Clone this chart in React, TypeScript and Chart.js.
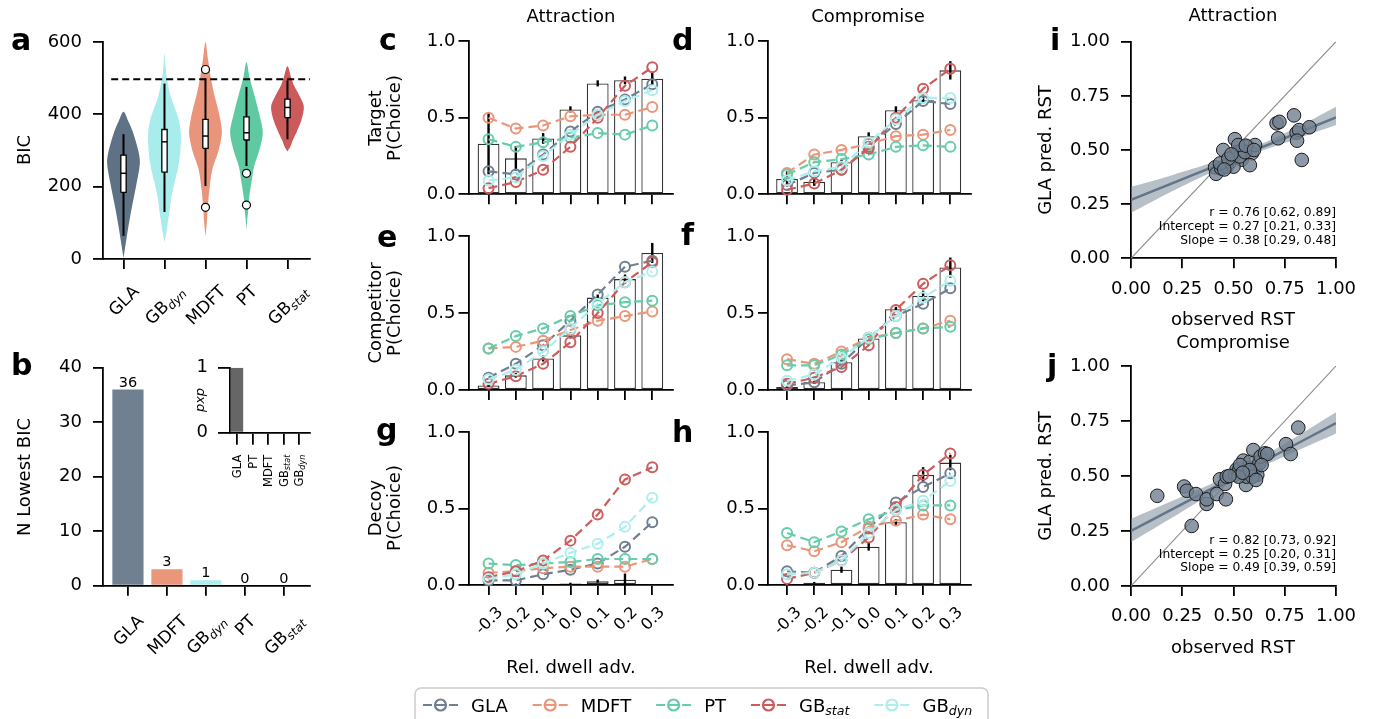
import React, { useEffect, useRef } from "react";
import { Chart, registerables } from "chart.js";

Chart.register(...registerables);
Chart.defaults.font.family = "DejaVu Sans";
Chart.defaults.color = "#000";

const PAGE_W = 1375;
const PAGE_H = 719;
const FONT = "DejaVu Sans";
const YAXIS_W = 80;

// ---------------- shared model legend ----------------
const MODEL_NAMES = ["GLA", "MDFT", "PT", "GB_stat", "GB_dyn"];
const MODEL_COLORS = ["#708090", "#E9967A", "#66CDAA", "#CD5C5C", "#AFEEEE"];

// ---------------- panel a : BIC violins ----------------
const A_MODELS = ["GLA", "GB_dyn", "MDFT", "PT", "GB_stat"];
const A_COLORS = ["#5f7184", "#a9ecec", "#e8957b", "#5fcaa2", "#cd5a5a"];
const A_Y_TICKS = [0, 200, 400, 600];
const A_VIOLIN_Y = [
  [3, 50, 100, 150, 200, 265, 300, 350, 380, 407],
  [46, 70, 100, 130, 165, 200, 250, 300, 345, 380, 400, 450, 500, 535, 568],
  [62, 100, 150, 200, 250, 300, 350, 400, 450, 500, 550, 600],
  [81, 110, 130, 165, 210, 255, 300, 350, 400, 450, 500, 545],
  [297, 311, 329, 350, 384, 421, 448, 476, 500, 533],
];
const A_VIOLIN_W = [
  [0, 0.16, 0.34, 0.54, 0.76, 1.0, 0.9, 0.58, 0.3, 0],
  [0, 0.1, 0.2, 0.3, 0.4, 0.55, 0.82, 0.97, 1.0, 0.9, 0.77, 0.38, 0.15, 0.06, 0],
  [0, 0.08, 0.15, 0.26, 0.43, 0.8, 1.0, 0.84, 0.56, 0.33, 0.16, 0],
  [0, 0.05, 0.1, 0.15, 0.3, 0.46, 0.78, 1.0, 0.78, 0.5, 0.2, 0],
  [0, 0.18, 0.33, 0.55, 0.85, 1.0, 0.77, 0.44, 0.24, 0],
];
const A_WHISK_LO = [64, 130, 202, 257, 331];
const A_Q1 = [184, 240, 306, 329, 391];
const A_MED = [237, 324, 340, 349, 419];
const A_Q3 = [287, 358, 386, 393, 442];
const A_WHISK_HI = [345, 485, 499, 476, 494];
const A_OUTLIER_X = [2, 2, 3, 3];
const A_OUTLIER_Y = [524, 143, 237, 149];
const A_REF_BIC = 497;
const A_REF_X = [-0.3, 4.55];

// ---------------- panel b : N lowest BIC + pxp inset ----------------
const B_MODELS = ["GLA", "MDFT", "GB_dyn", "PT", "GB_stat"];
const B_COUNTS = [36, 3, 1, 0, 0];
const B_COLORS = ["#708090", "#E9967A", "#AFEEEE", "#66CDAA", "#CD5C5C"];
const B_Y_TICKS = [0, 10, 20, 30, 40];
const PXP_MODELS = ["GLA", "PT", "MDFT", "GB_stat", "GB_dyn"];
const PXP_VALUES = [1, 0, 0, 0, 0];
const PXP_Y_TICKS = [0, 1];

// ---------------- panels c-h : choice probabilities ----------------
const DWELL = ["-0.3", "-0.2", "-0.1", "0.0", "0.1", "0.2", "0.3"];
const P_TICKS = [0, 0.5, 1];

const C_OBS = [0.33, 0.235, 0.365, 0.555, 0.725, 0.745, 0.755];
const C_ERR = [0.2, 0.08, 0.035, 0.02, 0.02, 0.025, 0.045];
const C_PRED = [
  [0.15, 0.13, 0.26, 0.41, 0.54, 0.62, 0.72],
  [0.5, 0.43, 0.45, 0.51, 0.52, 0.52, 0.57],
  [0.36, 0.31, 0.34, 0.37, 0.4, 0.39, 0.45],
  [0.04, 0.08, 0.16, 0.31, 0.5, 0.71, 0.83],
  [0.09, 0.11, 0.25, 0.39, 0.52, 0.61, 0.68],
];

const D_OBS = [0.1, 0.08, 0.21, 0.38, 0.55, 0.615, 0.81];
const D_ERR = [0.05, 0.025, 0.015, 0.025, 0.025, 0.02, 0.06];
const D_PRED = [
  [0.06, 0.14, 0.16, 0.31, 0.46, 0.61, 0.59],
  [0.14, 0.26, 0.29, 0.33, 0.38, 0.39, 0.42],
  [0.13, 0.21, 0.23, 0.26, 0.31, 0.32, 0.31],
  [0.03, 0.07, 0.16, 0.3, 0.5, 0.69, 0.82],
  [0.09, 0.15, 0.18, 0.34, 0.49, 0.63, 0.63],
];

const E_OBS = [0.03, 0.095, 0.205, 0.355, 0.6, 0.72, 0.89];
const E_ERR = [0.01, 0.015, 0.02, 0.02, 0.02, 0.03, 0.065];
const E_PRED = [
  [0.08, 0.17, 0.29, 0.45, 0.62, 0.8, 0.84],
  [0.27, 0.28, 0.32, 0.39, 0.45, 0.48, 0.51],
  [0.27, 0.35, 0.4, 0.48, 0.55, 0.57, 0.58],
  [0.04, 0.09, 0.17, 0.31, 0.5, 0.7, 0.83],
  [0.07, 0.13, 0.25, 0.4, 0.56, 0.7, 0.77],
];

const F_OBS = [0.02, 0.05, 0.18, 0.335, 0.525, 0.61, 0.795];
const F_ERR = [0.008, 0.01, 0.015, 0.015, 0.015, 0.035, 0.065];
const F_PRED = [
  [0.03, 0.05, 0.17, 0.34, 0.48, 0.56, 0.66],
  [0.2, 0.17, 0.25, 0.34, 0.37, 0.4, 0.45],
  [0.16, 0.16, 0.23, 0.33, 0.37, 0.4, 0.41],
  [0.04, 0.08, 0.15, 0.29, 0.52, 0.69, 0.81],
  [0.06, 0.1, 0.21, 0.34, 0.48, 0.6, 0.71],
];

const G_OBS = [0.0, 0.005, 0.0, 0.01, 0.025, 0.035, 0.0];
const G_ERR = [0, 0.004, 0, 0.005, 0.01, 0.04, 0];
const G_PRED = [
  [0.03, 0.03, 0.07, 0.1, 0.14, 0.25, 0.41],
  [0.08, 0.09, 0.11, 0.12, 0.12, 0.12, 0.17],
  [0.14, 0.13, 0.14, 0.15, 0.17, 0.17, 0.17],
  [0.05, 0.09, 0.16, 0.29, 0.46, 0.69, 0.77],
  [0.04, 0.07, 0.14, 0.21, 0.27, 0.38, 0.57],
];

const H_OBS = [0.0, 0.015, 0.1, 0.25, 0.41, 0.72, 0.8];
const H_ERR = [0, 0.005, 0.02, 0.025, 0.02, 0.05, 0.05];
const H_PRED = [
  [0.09, 0.08, 0.19, 0.37, 0.54, 0.64, 0.73],
  [0.26, 0.22, 0.28, 0.38, 0.42, 0.46, 0.43],
  [0.34, 0.28, 0.35, 0.43, 0.49, 0.52, 0.52],
  [0.04, 0.08, 0.16, 0.31, 0.51, 0.72, 0.86],
  [0.07, 0.08, 0.16, 0.34, 0.49, 0.55, 0.68],
];

// ---------------- panels i-j : RST scatter ----------------
const RST_TICKS = [0, 0.25, 0.5, 0.75, 1];
const DIAG_X = [0, 1];
const DIAG_Y = [0, 1];
const FIT_X = [0, 0.2, 0.4, 0.6, 0.8, 1.0];

const I_OBS = [0.41, 0.415, 0.45, 0.44, 0.48, 0.507, 0.5, 0.52, 0.54, 0.545, 0.57, 0.59, 0.605, 0.58, 0.467, 0.5, 0.434, 0.53, 0.556, 0.71, 0.724, 0.718, 0.795, 0.808, 0.82, 0.81, 0.833, 0.87, 0.523, 0.475, 0.56, 0.6, 0.49, 0.455];
const I_PRED = [0.42, 0.39, 0.5, 0.415, 0.44, 0.55, 0.47, 0.49, 0.455, 0.5, 0.515, 0.485, 0.523, 0.43, 0.423, 0.423, 0.438, 0.47, 0.49, 0.623, 0.63, 0.554, 0.66, 0.58, 0.592, 0.543, 0.454, 0.605, 0.523, 0.46, 0.52, 0.5, 0.48, 0.41];
const I_FIT = [0.27, 0.346, 0.422, 0.498, 0.574, 0.65];
const I_LO = [0.21, 0.31, 0.4, 0.483, 0.548, 0.615];
const I_HI = [0.33, 0.384, 0.443, 0.513, 0.6, 0.7];
const I_STATS = ["r = 0.76 [0.62, 0.89]", "Intercept = 0.27 [0.21, 0.33]", "Slope = 0.38 [0.29, 0.48]"];

const J_OBS = [0.128, 0.259, 0.272, 0.317, 0.296, 0.369, 0.369, 0.418, 0.434, 0.463, 0.459, 0.467, 0.507, 0.515, 0.528, 0.548, 0.561, 0.564, 0.577, 0.58, 0.597, 0.605, 0.616, 0.626, 0.632, 0.654, 0.665, 0.637, 0.532, 0.592, 0.756, 0.779, 0.816, 0.58, 0.524, 0.61, 0.48, 0.545];
const J_PRED = [0.41, 0.452, 0.433, 0.418, 0.273, 0.373, 0.394, 0.418, 0.485, 0.394, 0.464, 0.497, 0.505, 0.53, 0.53, 0.57, 0.459, 0.497, 0.535, 0.565, 0.618, 0.527, 0.505, 0.558, 0.588, 0.603, 0.6, 0.55, 0.55, 0.497, 0.645, 0.6, 0.72, 0.527, 0.497, 0.482, 0.5, 0.515];
const J_FIT = [0.25, 0.348, 0.446, 0.544, 0.642, 0.74];
const J_LO = [0.2, 0.31, 0.424, 0.525, 0.61, 0.693];
const J_HI = [0.305, 0.386, 0.468, 0.565, 0.675, 0.79];
const J_STATS = ["r = 0.82 [0.73, 0.92]", "Intercept = 0.25 [0.20, 0.31]", "Slope = 0.49 [0.39, 0.59]"];

// ---------------- layout ----------------
type Area = { l: number; t: number; r: number; b: number };
const AREA_A: Area = { l: 103, t: 42, r: 310, b: 259 };
const AREA_B: Area = { l: 103, t: 367.7, r: 310, b: 585.7 };
const AREA_INSET: Area = { l: 230, t: 367.7, r: 310, b: 432.7 };
const AREA_C: Area = { l: 468.5, t: 41.3, r: 673, b: 194.3 };
const AREA_D: Area = { l: 768, t: 41.3, r: 971, b: 194.3 };
const AREA_E: Area = { l: 468.5, t: 236, r: 673, b: 390 };
const AREA_F: Area = { l: 768, t: 236, r: 971, b: 390 };
const AREA_G: Area = { l: 468.5, t: 432, r: 673, b: 585 };
const AREA_H: Area = { l: 768, t: 432, r: 971, b: 585 };
const AREA_I: Area = { l: 1131, t: 41.7, r: 1336, b: 258.3 };
const AREA_J: Area = { l: 1131, t: 366, r: 1336, b: 586 };

const AX_COLOR = "#000";
const AX_W = 1.8;
const ROT = -Math.PI / 2;

type Item = { t: string; x: number; y: number; size: number; bold?: boolean; italic?: boolean; rot?: number; align?: CanvasTextAlign; base?: CanvasTextBaseline };
const L = (t: string, x: number, y: number): Item => ({ t, x, y, size: 30, bold: true, align: "left", base: "alphabetic" });
const PAGE_TEXTS: Item[] = [
  L("a", 11, 50), L("b", 11, 375), L("c", 379, 50), L("d", 672, 50), L("e", 377, 247),
  L("f", 681, 245), L("g", 376, 440), L("h", 672, 442), L("i", 1050, 50), L("j", 1047, 376),
  { t: "Attraction", x: 571, y: 17, size: 18 },
  { t: "Compromise", x: 868, y: 17, size: 18 },
  { t: "Attraction", x: 1233, y: 16, size: 18 },
  { t: "Compromise", x: 1233, y: 343, size: 18 },
  { t: "BIC", x: 25, y: 150, size: 18, rot: ROT },
  { t: "N Lowest BIC", x: 25, y: 477, size: 18, rot: ROT },
  { t: "pxp", x: 201, y: 400, size: 13, italic: true, rot: ROT },
  { t: "Target", x: 376, y: 118, size: 18, rot: ROT },
  { t: "P(Choice)", x: 395, y: 118, size: 18, rot: ROT },
  { t: "Competitor", x: 376, y: 313, size: 18, rot: ROT },
  { t: "P(Choice)", x: 395, y: 313, size: 18, rot: ROT },
  { t: "Decoy", x: 376, y: 508, size: 18, rot: ROT },
  { t: "P(Choice)", x: 395, y: 508, size: 18, rot: ROT },
  { t: "GLA pred. RST", x: 1046, y: 150, size: 18, rot: ROT },
  { t: "GLA pred. RST", x: 1046, y: 476, size: 18, rot: ROT },
  { t: "Rel. dwell adv.", x: 571, y: 668, size: 18 },
  { t: "Rel. dwell adv.", x: 869, y: 668, size: 18 },
  { t: "observed RST", x: 1233, y: 320, size: 18 },
  { t: "observed RST", x: 1233, y: 648, size: 18 },
];

// ---------------- helpers ----------------
function drawRich(ctx: CanvasRenderingContext2D, label: string, size: number, x: number, y: number) {
  const [main, sub] = label.split("_");
  ctx.font = `${size}px "${FONT}"`;
  ctx.fillText(main, x, y);
  const w1 = ctx.measureText(main).width;
  if (sub) {
    ctx.font = `italic ${size * 0.7}px "${FONT}"`;
    ctx.fillText(sub, x + w1, y + size * 0.2);
  }
}
function richWidth(ctx: CanvasRenderingContext2D, label: string, size: number) {
  const [main, sub] = label.split("_");
  ctx.font = `${size}px "${FONT}"`;
  let w = ctx.measureText(main).width;
  if (sub) {
    ctx.font = `italic ${size * 0.7}px "${FONT}"`;
    w += ctx.measureText(sub).width;
  }
  return w;
}

function textPlugin(items: Item[]) {
  return {
    id: "pageTexts",
    afterDraw(chart: any) {
      const ctx = chart.ctx as CanvasRenderingContext2D;
      for (const it of items) {
        ctx.save();
        ctx.font = `${it.italic ? "italic " : ""}${it.bold ? "bold " : ""}${it.size}px "${FONT}"`;
        ctx.fillStyle = "#000";
        ctx.textAlign = it.align || "center";
        ctx.textBaseline = it.base || "middle";
        ctx.translate(it.x, it.y);
        if (it.rot) ctx.rotate(it.rot);
        ctx.fillText(it.t, 0, 0);
        ctx.restore();
      }
    },
  };
}

function rotLabelPlugin(labels: string[], size: number, angle: 45 | 90, tickLen: number, pad: number) {
  return {
    id: "rotLabels",
    afterDraw(chart: any) {
      const ctx = chart.ctx as CanvasRenderingContext2D;
      const xs = chart.scales.x;
      const top = chart.chartArea.bottom + tickLen + pad;
      labels.forEach((lab, i) => {
        ctx.save();
        const w = richWidth(ctx, lab, size);
        const h = size * 1.16;
        const px = xs.getPixelForValue(i);
        let cy: number;
        let rot: number;
        if (angle === 45) {
          cy = top + (w + h) / Math.SQRT2 / 2;
          rot = -Math.PI / 4;
        } else {
          cy = top + w / 2;
          rot = -Math.PI / 2;
        }
        ctx.translate(px, cy);
        ctx.rotate(rot);
        ctx.fillStyle = "#000";
        ctx.textAlign = "left";
        ctx.textBaseline = "alphabetic";
        drawRich(ctx, lab, size, -w / 2, size * 0.35);
        ctx.restore();
      });
    },
  };
}

function errorBarPlugin(obs: number[], err: number[]) {
  return {
    id: "errBars",
    afterDatasetDraw(chart: any, args: any) {
      if (args.index !== 0) return;
      const ctx = chart.ctx as CanvasRenderingContext2D;
      const xs = chart.scales.x;
      const ys = chart.scales.y;
      ctx.save();
      ctx.strokeStyle = "#000";
      ctx.lineWidth = 2.4;
      obs.forEach((v, i) => {
        if (!err[i]) return;
        const x = xs.getPixelForValue(i);
        ctx.beginPath();
        ctx.moveTo(x, ys.getPixelForValue(v - err[i]));
        ctx.lineTo(x, ys.getPixelForValue(v + err[i]));
        ctx.stroke();
      });
      ctx.restore();
    },
  };
}

function barLabelPlugin(values: number[]) {
  return {
    id: "barLabels",
    afterDatasetsDraw(chart: any) {
      const ctx = chart.ctx as CanvasRenderingContext2D;
      const xs = chart.scales.x;
      const ys = chart.scales.y;
      ctx.save();
      ctx.font = `14.5px "${FONT}"`;
      ctx.fillStyle = "#000";
      ctx.textAlign = "center";
      ctx.textBaseline = "alphabetic";
      values.forEach((v, i) => ctx.fillText(String(v), xs.getPixelForValue(i), ys.getPixelForValue(v) - 3));
      ctx.restore();
    },
  };
}

function statsPlugin(lines: string[], bottomOffset: number, spacing: number) {
  return {
    id: "statsText",
    afterDatasetsDraw(chart: any) {
      const ctx = chart.ctx as CanvasRenderingContext2D;
      const { right, bottom } = chart.chartArea;
      ctx.save();
      ctx.font = `12.3px "${FONT}"`;
      ctx.fillStyle = "#000";
      ctx.textAlign = "right";
      ctx.textBaseline = "middle";
      lines.forEach((s, k) => ctx.fillText(s, right, bottom - bottomOffset - (lines.length - 1 - k) * spacing));
      ctx.restore();
    },
  };
}

const legendPlugin = {
  id: "figLegend",
  afterDraw(chart: any) {
    const ctx = chart.ctx as CanvasRenderingContext2D;
    ctx.save();
    const bx = 415, by = 688, bw = 573, bh = 50, r = 6;
    ctx.beginPath();
    ctx.moveTo(bx + r, by);
    ctx.lineTo(bx + bw - r, by);
    ctx.arcTo(bx + bw, by, bx + bw, by + r, r);
    ctx.lineTo(bx + bw, by + bh);
    ctx.lineTo(bx, by + bh);
    ctx.lineTo(bx, by + r);
    ctx.arcTo(bx, by, bx + r, by, r);
    ctx.closePath();
    ctx.fillStyle = "rgba(255,255,255,0.85)";
    ctx.fill();
    ctx.strokeStyle = "#cccccc";
    ctx.lineWidth = 1.5;
    ctx.stroke();
    let x = 423;
    const cy = 705;
    MODEL_NAMES.forEach((name, k) => {
      ctx.strokeStyle = MODEL_COLORS[k];
      ctx.lineWidth = 2.2;
      ctx.beginPath();
      ctx.moveTo(x, cy); ctx.lineTo(x + 9, cy);
      ctx.moveTo(x + 12.5, cy); ctx.lineTo(x + 22.5, cy);
      ctx.moveTo(x + 26, cy); ctx.lineTo(x + 35, cy);
      ctx.stroke();
      ctx.beginPath();
      ctx.arc(x + 17.5, cy, 5.5, 0, Math.PI * 2);
      ctx.stroke();
      const tx = x + 35 + 13;
      ctx.fillStyle = "#000";
      ctx.textAlign = "left";
      ctx.textBaseline = "alphabetic";
      const w = richWidth(ctx, name, 18);
      drawRich(ctx, name, 18, tx, cy + 6.5);
      x = tx + w + 25;
    });
    ctx.restore();
  },
};

function gridOpts(tickLen = 10) {
  return { display: true, drawOnChartArea: false, drawTicks: true, tickLength: tickLen, color: AX_COLOR, lineWidth: AX_W, offset: false };
}
const borderOpts = { display: true, color: AX_COLOR, width: AX_W };

function xAxis(a: Area, min: number, max: number, tickVals: number[], fmt?: (v: number) => string, pad = 10, tickLen = 10) {
  return {
    type: "linear",
    min,
    max,
    offset: false,
    afterBuildTicks: (s: any) => {
      s.ticks = tickVals.map((v) => ({ value: v }));
    },
    afterFit: (s: any) => {
      s.height = PAGE_H - a.b;
    },
    grid: gridOpts(tickLen),
    border: borderOpts,
    ticks: fmt
      ? { display: true, autoSkip: false, maxRotation: 0, minRotation: 0, padding: pad, color: "#000", font: { family: FONT, size: 18 }, callback: (v: number) => fmt(v) }
      : { display: false },
  };
}

function yAxis(min: number, max: number, tickVals: number[], fmt: (v: number) => string, pad: number, tickLen = 10) {
  return {
    type: "linear",
    min,
    max,
    afterBuildTicks: (s: any) => {
      s.ticks = tickVals.map((v) => ({ value: v }));
    },
    afterFit: (s: any) => {
      s.width = YAXIS_W;
    },
    grid: gridOpts(tickLen),
    border: borderOpts,
    ticks: { display: true, autoSkip: false, padding: pad, color: "#000", font: { family: FONT, size: 18 }, callback: (v: number) => fmt(v) },
  };
}

function baseOptions(a: Area) {
  return {
    responsive: false,
    maintainAspectRatio: false,
    animation: false,
    events: [],
    layout: { padding: { left: a.l - YAXIS_W, top: a.t, right: PAGE_W - a.r, bottom: 0 } },
    plugins: { legend: { display: false }, tooltip: { enabled: false }, title: { display: false } },
  };
}

const idx = (arr: any[]) => arr.map((_, i) => i);

// ---------------- chart builders ----------------
function buildA() {
  const HALF = 0.4;
  const BOX = 0.065;
  const violins = A_VIOLIN_Y.map((ys, k) => {
    const ws = A_VIOLIN_W[k];
    const right = ys.map((y, j) => ({ x: k + ws[j] * HALF, y }));
    const left = ys.map((y, j) => ({ x: k - ws[j] * HALF, y })).reverse().slice(1);
    return { type: "line", data: [...right, ...left], fill: "shape", backgroundColor: A_COLORS[k], borderColor: A_COLORS[k], borderWidth: 0, pointRadius: 0, tension: 0.3, order: 50 };
  });
  const whiskers = A_MODELS.map((_, k) => ({
    type: "line", data: [{ x: k, y: A_WHISK_LO[k] }, { x: k, y: A_WHISK_HI[k] }], borderColor: "#000", borderWidth: 2, pointRadius: 0, order: 40,
  }));
  const boxes = A_MODELS.map((_, k) => ({
    type: "line",
    data: [
      { x: k - BOX, y: A_Q1[k] }, { x: k + BOX, y: A_Q1[k] }, { x: k + BOX, y: A_Q3[k] }, { x: k - BOX, y: A_Q3[k] }, { x: k - BOX, y: A_Q1[k] },
    ],
    fill: "shape", backgroundColor: "#fff", borderColor: "#000", borderWidth: 1.3, pointRadius: 0, order: 30,
  }));
  const medians = A_MODELS.map((_, k) => ({
    type: "line", data: [{ x: k - BOX, y: A_MED[k] }, { x: k + BOX, y: A_MED[k] }], borderColor: "#000", borderWidth: 1.5, pointRadius: 0, order: 20,
  }));
  const outliers = {
    type: "scatter", data: A_OUTLIER_X.map((x, j) => ({ x, y: A_OUTLIER_Y[j] })), pointRadius: 4, pointBackgroundColor: "#fff", pointBorderColor: "#000", pointBorderWidth: 1.2, order: 10,
  };
  const refLine = {
    type: "line", data: A_REF_X.map((x) => ({ x, y: A_REF_BIC })), borderColor: "#000", borderWidth: 1.8, borderDash: [7, 4], pointRadius: 0, order: 5,
  };
  return {
    type: "scatter",
    data: { datasets: [...violins, ...whiskers, ...boxes, ...medians, outliers, refLine] },
    options: {
      ...baseOptions(AREA_A),
      scales: {
        x: xAxis(AREA_A, -0.5, 4.55, idx(A_MODELS)),
        y: yAxis(0, 600, A_Y_TICKS, (v) => String(v), 11),
      },
    },
    plugins: [rotLabelPlugin(A_MODELS, 17, 45, 10, 12), textPlugin(PAGE_TEXTS)],
  };
}

function buildB() {
  return {
    type: "bar",
    data: {
      datasets: [
        { data: B_COUNTS.map((v, i) => ({ x: i, y: v })), backgroundColor: B_COLORS, borderWidth: 0, barPercentage: 0.8, categoryPercentage: 1 },
      ],
    },
    options: {
      ...baseOptions(AREA_B),
      scales: {
        x: xAxis(AREA_B, -0.64, 4.67, idx(B_MODELS)),
        y: yAxis(0, 40, B_Y_TICKS, (v) => String(v), 11),
      },
    },
    plugins: [rotLabelPlugin(B_MODELS, 17, 45, 10, 15), barLabelPlugin(B_COUNTS)],
  };
}

function buildInset() {
  return {
    type: "bar",
    data: {
      datasets: [
        { data: PXP_VALUES.map((v, i) => ({ x: i, y: v })), backgroundColor: "#666666", borderWidth: 0, barPercentage: 0.8, categoryPercentage: 1 },
      ],
    },
    options: {
      ...baseOptions(AREA_INSET),
      scales: {
        x: xAxis(AREA_INSET, -0.45, 4.71, idx(PXP_MODELS), undefined, 10, 12),
        y: yAxis(0, 1, PXP_Y_TICKS, (v) => String(v), 10, 12),
      },
    },
    plugins: [rotLabelPlugin(PXP_MODELS, 11.5, 90, 12, 10)],
  };
}

function buildProb(a: Area, xmin: number, obs: number[], err: number[], pred: number[][], showX: boolean, extra: any[] = []) {
  const datasets: any[] = [
    {
      type: "bar", data: obs.map((v, i) => ({ x: i, y: v })), backgroundColor: "#ffffff", borderColor: "#333333", borderWidth: 1.3, borderSkipped: false,
      barPercentage: 0.8, categoryPercentage: 1, order: 10,
    },
    ...pred.map((row, k) => ({
      type: "line", data: row.map((v, i) => ({ x: i, y: v })), borderColor: MODEL_COLORS[k], borderWidth: 2.2, borderDash: [9, 5],
      pointRadius: 5, pointBorderWidth: 2, pointBorderColor: MODEL_COLORS[k], pointBackgroundColor: "rgba(0,0,0,0)",
      fill: false, tension: 0, clip: false, order: 5 - k,
    })),
  ];
  return {
    type: "bar",
    data: { datasets },
    options: {
      ...baseOptions(a),
      scales: {
        x: xAxis(a, xmin, 6.76, idx(DWELL)),
        y: yAxis(0, 1, P_TICKS, (v) => v.toFixed(1), 3),
      },
    },
    plugins: [errorBarPlugin(obs, err), ...(showX ? [rotLabelPlugin(DWELL, 16, 45, 10, 7.5)] : []), ...extra],
  };
}

function buildRst(a: Area, obs: number[], pred: number[], fit: number[], lo: number[], hi: number[], stats: string[], bottomOffset: number, spacing: number) {
  return {
    type: "scatter",
    data: {
      datasets: [
        {
          type: "scatter", data: obs.map((x, k) => ({ x, y: pred[k] })), pointRadius: 6.8, pointBackgroundColor: "rgba(112,128,144,0.8)",
          pointBorderColor: "#1a1a1a", pointBorderWidth: 1, order: 0,
        },
        { type: "line", data: FIT_X.map((x, k) => ({ x, y: hi[k] })), borderWidth: 0, pointRadius: 0, fill: false, tension: 0.3, order: 40 },
        {
          type: "line", data: FIT_X.map((x, k) => ({ x, y: lo[k] })), borderWidth: 0, pointRadius: 0, fill: "-1", tension: 0.3,
          backgroundColor: "rgba(112,128,144,0.5)", order: 40,
        },
        { type: "line", data: FIT_X.map((x, k) => ({ x, y: fit[k] })), borderColor: "#64748a", borderWidth: 2.5, pointRadius: 0, order: 30 },
        { type: "line", data: DIAG_X.map((x, k) => ({ x, y: DIAG_Y[k] })), borderColor: "#8c8c8c", borderWidth: 1.1, pointRadius: 0, order: 20 },
      ],
    },
    options: {
      ...baseOptions(a),
      scales: {
        x: xAxis(a, 0, 1, RST_TICKS, (v) => v.toFixed(2), 10),
        y: yAxis(0, 1, RST_TICKS, (v) => v.toFixed(2), 11),
      },
    },
    plugins: [statsPlugin(stats, bottomOffset, spacing)],
  };
}

const BUILDERS: (() => any)[] = [
  buildA,
  buildB,
  buildInset,
  () => buildProb(AREA_C, -0.735, C_OBS, C_ERR, C_PRED, false),
  () => buildProb(AREA_D, -0.7, D_OBS, D_ERR, D_PRED, false),
  () => buildProb(AREA_E, -0.735, E_OBS, E_ERR, E_PRED, false),
  () => buildProb(AREA_F, -0.7, F_OBS, F_ERR, F_PRED, false),
  () => buildProb(AREA_G, -0.735, G_OBS, G_ERR, G_PRED, true, [legendPlugin]),
  () => buildProb(AREA_H, -0.7, H_OBS, H_ERR, H_PRED, true),
  () => buildRst(AREA_I, I_OBS, I_PRED, I_FIT, I_LO, I_HI, I_STATS, 17.3, 14),
  () => buildRst(AREA_J, J_OBS, J_PRED, J_FIT, J_LO, J_HI, J_STATS, 18, 13.5),
];

function ChartLayer({ build }: { build: () => any }) {
  const ref = useRef<HTMLCanvasElement | null>(null);
  useEffect(() => {
    if (!ref.current) return;
    const chart = new Chart(ref.current, build());
    return () => chart.destroy();
  }, [build]);
  return (
    <canvas
      ref={ref}
      width={PAGE_W}
      height={PAGE_H}
      style={{ position: "absolute", left: 0, top: 0, width: PAGE_W, height: PAGE_H }}
    />
  );
}

export default function App() {
  return (
    <div style={{ position: "absolute", left: 0, top: 0, width: PAGE_W, height: PAGE_H, background: "#ffffff", overflow: "hidden" }}>
      {BUILDERS.map((b, i) => (
        <ChartLayer key={i} build={b} />
      ))}
    </div>
  );
}
